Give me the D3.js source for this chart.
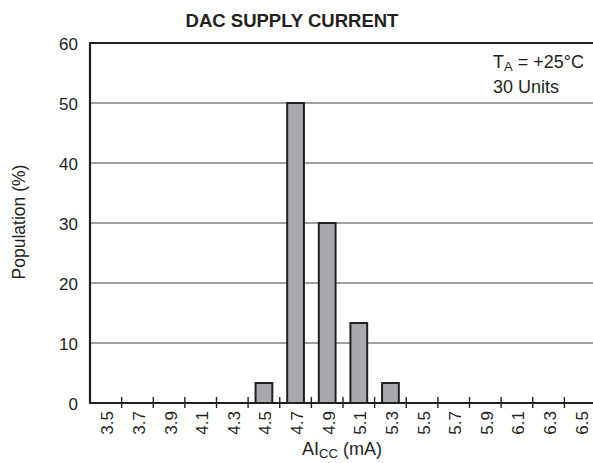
<!DOCTYPE html>
<html><head><meta charset="utf-8">
<script src="https://cdn.jsdelivr.net/npm/d3@7"></script>
<style>body{margin:0;background:#fff}text{font-family:"Liberation Sans",Arial,sans-serif;fill:#231f20}</style>
</head><body><svg id="c" width="593" height="463"></svg>
<script>
const categories = ["3.5","3.7","3.9","4.1","4.3","4.5","4.7","4.9","5.1","5.3","5.5","5.7","5.9","6.1","6.3","6.5"];
const values = [0,0,0,0,0,3.33,50,30,13.33,3.33,0,0,0,0,0,0];
const yTicks = [0,10,20,30,40,50,60];

const svg = d3.select("#c");
const L = 90, R = 596, T = 43, B = 403;
const x = d3.scaleBand().domain(categories).range([L, R]).paddingInner(0).paddingOuter(0);
const y = d3.scaleLinear().domain([0, 60]).range([B, T]);
const dark = "#231f20";

// gridlines
svg.append("g").selectAll("line").data(yTicks.filter(d => d > 0 && d < 60)).join("line")
  .attr("x1", L).attr("x2", R).attr("y1", d => y(d)).attr("y2", d => y(d))
  .attr("stroke", "#7f7f7f").attr("stroke-width", 1.4);

// bars
const bw = x.bandwidth() * 0.53;
svg.append("g").selectAll("rect").data(categories.map((c, i) => ({c, v: values[i]})).filter(d => d.v > 0)).join("rect")
  .attr("x", d => x(d.c) + (x.bandwidth() - bw) / 2)
  .attr("y", d => y(d.v))
  .attr("width", bw)
  .attr("height", d => y(0) - y(d.v))
  .attr("fill", "#a7a9ac").attr("stroke", dark).attr("stroke-width", 2);

// frame: top, left, bottom
svg.append("line").attr("x1", L).attr("x2", R).attr("y1", y(60)).attr("y2", y(60)).attr("stroke", dark).attr("stroke-width", 2.2);
svg.append("line").attr("x1", L).attr("x2", L).attr("y1", T - 1).attr("y2", B + 1).attr("stroke", dark).attr("stroke-width", 2.2);
svg.append("line").attr("x1", L).attr("x2", R).attr("y1", B).attr("y2", B).attr("stroke", dark).attr("stroke-width", 2.2);

// x ticks at bin edges
const edges = categories.map(c => x(c)).slice(1);
svg.append("g").selectAll("line").data(edges).join("line")
  .attr("x1", d => d).attr("x2", d => d).attr("y1", B - 6).attr("y2", B + 5)
  .attr("stroke", dark).attr("stroke-width", 1.4);

// x tick labels (rotated)
svg.append("g").selectAll("text").data(categories).join("text")
  .attr("transform", d => `translate(${x(d) + x.bandwidth() / 2 + 7.5},${B + 8}) rotate(-90)`)
  .attr("text-anchor", "end").attr("font-size", 17).text(d => d);

// y tick labels
svg.append("g").selectAll("text").data(yTicks).join("text")
  .attr("x", L - 12).attr("y", d => y(d) + 6.5)
  .attr("text-anchor", "end").attr("font-size", 17).text(d => d);

// title
svg.append("text").attr("x", 292).attr("y", 26.5).attr("text-anchor", "middle")
  .attr("font-size", 18.5).attr("font-weight", "bold").text("DAC SUPPLY CURRENT");

// axis labels
svg.append("text").attr("transform", `translate(24.5,${(T + B) / 2 - 1}) rotate(-90)`)
  .attr("text-anchor", "middle").attr("font-size", 17.5).text("Population (%)");
const xl = svg.append("text").attr("x", 342).attr("y", 455).attr("text-anchor", "middle").attr("font-size", 18);
xl.append("tspan").text("AI");
xl.append("tspan").attr("font-size", 13).attr("dy", 3).text("CC");
xl.append("tspan").attr("dy", -3).text(" (mA)");

// annotation
const a1 = svg.append("text").attr("x", 493).attr("y", 68).attr("font-size", 18);
a1.append("tspan").text("T");
a1.append("tspan").attr("font-size", 13).attr("dy", 3).text("A");
a1.append("tspan").attr("dy", -3).text(" = +25°C");
svg.append("text").attr("x", 493).attr("y", 93).attr("font-size", 18).text("30 Units");
</script></body></html>
